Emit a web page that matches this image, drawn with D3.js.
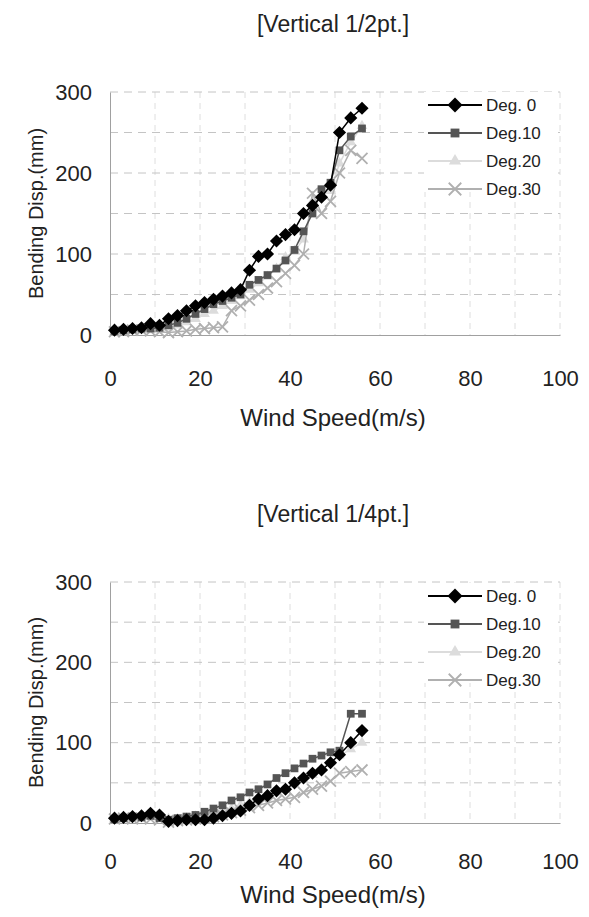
<!DOCTYPE html>
<html>
<head>
<meta charset="utf-8">
<script src="https://cdn.jsdelivr.net/npm/d3@7"></script>
<style>
  body { margin: 0; background: #fff; }
  svg { display: block; font-family: "Liberation Sans", Arial, sans-serif; }
</style>
</head>
<body>
<svg id="chart" width="589" height="917"></svg>
<script>
// wind speeds (m/s) shared by every series
var speeds = [1,3,5,7,9,11,13,15,17,19,21,23,25,27,29,31,33,35,37,39,41,43,45,47,49,51,53.5,56]

// Vertical 1/2pt. bending disp (mm)
var half_deg0  = [6,7,8,9,14,12,20,24,30,36,40,44,48,52,56,80,97,100,116,124,130,150,160,170,185,250,268,280]
var half_deg10 = [5,6,7,8,8,9,12,15,20,26,32,38,42,46,50,62,68,74,82,92,105,128,150,180,188,228,245,255]
var half_deg20 = [4,5,6,7,6,7,9,12,16,20,26,30,36,42,48,56,64,72,82,96,104,118,165,172,178,212,238,258]
var half_deg30 = [4,4,6,6,5,4,3,4,5,7,8,9,10,30,36,43,50,58,66,76,86,100,175,150,165,200,228,218]

// Vertical 1/4pt. bending disp (mm)
var quarter_deg0  = [6,7,8,9,12,10,2,3,4,4,4,6,9,12,15,22,30,34,40,42,50,56,62,66,75,85,100,115]
var quarter_deg10 = [5,6,8,7,9,6,4,6,8,10,14,18,22,28,32,38,42,48,56,62,68,74,80,84,88,90,136,136]
var quarter_deg20 = [5,6,7,8,8,7,5,5,6,8,10,12,15,18,22,26,30,34,38,42,48,54,60,68,76,84,92,100]
var quarter_deg30 = [5,6,5,6,5,4,1,3,4,5,6,8,10,13,16,19,22,25,28,30,32,38,42,46,52,62,64,66]

var seriesNames = ["Deg. 0", "Deg.10", "Deg.20", "Deg.30"]
var xTicks = [0, 20, 40, 60, 80, 100]
var yTicks = [0, 100, 200, 300]

var colors = ["#000000", "#555555", "#dcdcdc", "#b0b0b0"]
var symbols = [d3.symbolDiamond2, d3.symbolSquare, d3.symbolTriangle, d3.symbolX]
var symSizes = [110, 60, 50, 80]

var svg = d3.select("#chart")

function drawChart(opt) {
  var x = d3.scaleLinear().domain([0, 100]).range([110, 560])
  var y = d3.scaleLinear().domain([0, 300]).range([opt.bottom, opt.top])
  var g = svg.append("g")

  // title
  g.append("text")
    .attr("x", 333).attr("y", opt.titleY)
    .attr("text-anchor", "middle")
    .style("font-size", "23px").style("fill", "#222")
    .text(opt.title)

  // vertical grid, every 10
  g.append("g")
    .selectAll("line")
    .data(d3.range(10, 101, 10))
    .join("line")
    .attr("x1", d => x(d)).attr("x2", d => x(d))
    .attr("y1", y(300)).attr("y2", y(0))
    .attr("stroke", "#dedede").attr("stroke-dasharray", "6,5")

  // horizontal grid, every 50
  g.append("g")
    .selectAll("line")
    .data(d3.range(50, 301, 50))
    .join("line")
    .attr("x1", x(0)).attr("x2", x(100))
    .attr("y1", d => y(d)).attr("y2", d => y(d))
    .attr("stroke", "#c4c4c4").attr("stroke-dasharray", "8,6")

  // axes
  var xAxis = g.append("g")
    .attr("transform", "translate(0," + y(0) + ")")
    .call(d3.axisBottom(x).tickValues(xTicks).tickSize(0))
  var yAxis = g.append("g")
    .attr("transform", "translate(" + x(0) + ",0)")
    .call(d3.axisLeft(y).tickValues(yTicks).tickSize(0).tickPadding(18))
  ;[xAxis, yAxis].forEach(function(a) {
    a.select(".domain").attr("stroke", "#a0a0a0")
    a.selectAll("text").style("font-size", "22px").style("fill", "#222")
      .style("font-family", "'Liberation Sans', Arial, sans-serif")
  })
  xAxis.selectAll("text").attr("dy", "0.35em").attr("y", opt.xTickOff)

  // axis titles
  g.append("text")
    .attr("x", 333).attr("y", opt.bottom + opt.xTitleOff)
    .attr("text-anchor", "middle")
    .style("font-size", "24px").style("fill", "#222")
    .text("Wind Speed(m/s)")
  g.append("text")
    .attr("transform", "translate(43," + ((opt.top + opt.bottom) / 2) + ") rotate(-90)")
    .attr("text-anchor", "middle")
    .style("font-size", "20px").style("fill", "#222")
    .text("Bending Disp.(mm)")

  // series
  var line = d3.line().x(d => x(d[0])).y(d => y(d[1]))
  // draw the light ones first so dark ones stay on top
  ;[2, 3, 1, 0].forEach(function(i) {
    var pts = speeds.map((s, j) => [s, opt.series[i][j]])
    g.append("path")
      .datum(pts)
      .attr("d", line)
      .attr("fill", "none")
      .attr("stroke", colors[i])
      .attr("stroke-width", 1.5)
    g.append("g")
      .selectAll("path")
      .data(pts)
      .join("path")
      .attr("transform", d => "translate(" + x(d[0]) + "," + y(d[1]) + ")")
      .attr("d", d3.symbol().type(symbols[i]).size(symSizes[i]))
      .attr("fill", i == 3 ? "none" : colors[i])
      .attr("stroke", colors[i])
      .attr("stroke-width", i == 3 ? 1.8 : 0)
  })

  // legend
  var leg = g.append("g")
  leg.append("rect")
    .attr("x", 424).attr("y", opt.legendY - 13)
    .attr("width", 128).attr("height", 100)
    .attr("fill", "#fff")
  seriesNames.forEach(function(name, i) {
    var ly = opt.legendY + i * 28
    leg.append("line")
      .attr("x1", 428).attr("x2", 482)
      .attr("y1", ly).attr("y2", ly)
      .attr("stroke", colors[i]).attr("stroke-width", 2)
    leg.append("path")
      .attr("transform", "translate(455," + ly + ")")
      .attr("d", d3.symbol().type(symbols[i]).size(symSizes[i] * 1.3))
      .attr("fill", i == 3 ? "none" : colors[i])
      .attr("stroke", colors[i])
      .attr("stroke-width", i == 3 ? 1.8 : 0)
    leg.append("text")
      .attr("x", 486).attr("y", ly)
      .attr("dy", "0.35em")
      .style("font-size", "17px").style("fill", "#222")
      .text(name)
  })
}

drawChart({
  title: "[Vertical 1/2pt.]",
  titleY: 32,
  top: 92, bottom: 335,
  xTickOff: 43, xTitleOff: 91,
  legendY: 105,
  series: [half_deg0, half_deg10, half_deg20, half_deg30]
})

drawChart({
  title: "[Vertical 1/4pt.]",
  titleY: 522,
  top: 582, bottom: 823,
  xTickOff: 38, xTitleOff: 80,
  legendY: 596,
  series: [quarter_deg0, quarter_deg10, quarter_deg20, quarter_deg30]
})
</script>
</body>
</html>
